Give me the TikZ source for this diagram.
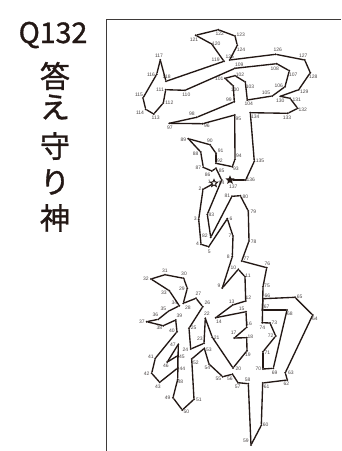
\documentclass[tikz,border=0pt]{standalone}
\usepackage{fontspec}
\setmainfont{Liberation Sans}
\newfontfamily\jpfont[FakeBold=1.2]{Noto Sans CJK JP}
\usetikzlibrary{shapes.geometric}

\definecolor{inkdark}{HTML}{231815}
\definecolor{framegray}{HTML}{3E3A39}
\definecolor{numgray}{HTML}{4A4545}

\tikzset{
  dotpt/.style={circle,fill=inkdark,inner sep=0pt,minimum size=2.2pt},
  numlabel/.style={inner sep=0pt,text=numgray,font=\fontsize{5}{5}\selectfont},
  titletext/.style={inner sep=0pt,text=inkdark,font=\jpfont\fontsize{30}{30}\selectfont},
  stroke/.style={draw=inkdark,line width=1.35pt,line cap=round,line join=round}
}

\begin{document}
\begin{tikzpicture}[x=1pt,y=-1pt]
  \useasboundingbox (0,0) rectangle (341,451);

  % frame
  \coordinate (framea) at (106.5,451);
  \coordinate (frameb) at (106.5,19.5);
  \coordinate (framec) at (341,19.5);
  \draw[framegray,line width=1.1pt] (framea) -- (frameb) -- (framec);

  % heading
  \node[titletext,font=\jpfont\fontsize{28.5}{28.5}\selectfont] (qno) at (53,35) {Q132};
  \node[titletext] (ansa) at (55,76) {答};
  \node[titletext] (ansb) at (55,107) {え};
  \node[titletext] (nama) at (55,146) {守};
  \node[titletext] (namb) at (55,182) {り};
  \node[titletext] (namc) at (55,218) {神};

  % dots and their numbers: n / x / y / label x / label y
  \foreach \n/\x/\y/\lx/\ly in {
    2/203/189.3/200/189, 3/198.7/219.3/195.3/219, 4/201/244.3/197.5/243.7,
    5/208.7/246.7/209.3/252, 6/227.3/218.7/231/219, 7/233/236/230/236,
    8/232.3/256.7/228.3/256.7, 9/222.3/288/219/286, 10/238.3/269.3/233.3/268,
    11/245/276.7/248/276, 12/245.7/301/248.3/297.3, 13/232.7/305/231.7/301.3,
    14/215.7/317.7/219/321.3, 15/246/311.7/241.7/309, 16/246.7/327.3/249/324,
    17/234.3/338/233.7/333, 18/246.7/337.7/250.3/337, 19/247/350.7/248/355,
    20/233/368/238.3/368.3, 21/212.3/337.3/216.7/337.7, 22/205.3/318.3/207/314,
    23/204/343.3/200/339, 24/190.7/349/185.3/349.3, 25/189/328.3/193.7/328,
    26/202.7/306.7/207.3/303, 27/196/298.3/198.3/294, 28/183.3/303.3/188/307.3,
    29/187.3/288.3/182/289, 30/183.7/278.3/184/274, 31/165/274.7/165/271,
    32/151/279/146/279, 33/169.3/290.7/164/292.3, 34/179.3/305.7/174.3/303,
    35/168.3/311.3/163.3/309, 36/158.3/319.3/155.3/315, 37/146.7/321.7/142/321.7,
    38/163.3/325.7/159.3/328, 39/175.7/320/179.3/316, 40/177/331.7/172/331,
    41/155.3/358.3/151/357, 42/151.7/373.3/146.7/373.3, 43/159.7/382.3/158/387,
    44/177.7/368/182.3/369, 45/177.7/355.7/182/357, 46/167.3/362/166/366,
    47/178.3/344.3/173/345, 48/177.7/379.3/180.3/382, 49/173/397.7/167.7/398,
    50/182.3/410/186.3/412, 51/194/399.3/199/400, 52/191.7/359/196/363,
    53/204.3/348.3/209/350, 54/209/364/207.3/368, 55/222.7/376.7/218.3/379,
    56/232.5/374.2/230/379, 57/238/382.7/237.7/387, 58/248.3/383.7/247.7/380,
    59/251/445/246/441, 60/261.3/425.3/265.7/425, 61/262.7/383/266.7/387,
    62/287.3/380/286.3/384, 63/285.3/372.7/291/373, 64/312.7/315/315/319,
    65/295/297.3/299.7/297, 66/263/298.7/267.3/296, 67/262.3/310/266.7/307,
    68/287/310/290/314, 69/273.3/368.3/274.7/373, 70/263/369/258.3/369,
    71/263/351.7/267.3/353, 72/275.7/336/270.7/336, 73/270/323/274.3/323,
    74/262.3/322.7/262.3/328, 75/263/286.7/267/286, 76/266.7/267.7/267.3/264,
    77/241.7/261/246.3/259, 78/249/241/253.7/241.3, 79/248.3/211/253.3/212,
    80/240.3/195.7/245.3/197, 81/232/196.3/227.3/196, 82/210.7/237.3/205/236,
    83/207.3/214.3/211.3/215, 84/221.7/180/221.7/182.7, 85/216/168.3/221.7/171,
    86/211.7/171/207.7/175, 87/203.3/167.3/198.3/168, 88/200.7/152/195.7/154,
    89/188.3/138.7/183.3/140, 90/210/144.7/210/141, 91/216/153.3/220.7/150.7,
    92/216/163.3/220/161, 93/232.3/166.7/236/169, 94/235/159.3/239/156,
    95/234.7/115/238.3/118.7, 96/202.7/123.7/207/125.7, 97/169.3/123.3/170/127.7,
    98/196.7/117.3/192/114, 99/234.3/101.7/229/100, 100/233.3/86/235/90,
    101/225/78.3/219.3/79, 102/235/75.7/240/75, 103/245.3/82/250/87,
    104/247.3/100/248.7/104, 105/272.3/96/266/92.7, 106/285/86.7/278.7/86,
    107/289.3/70.7/293.3/75, 108/276.7/63.7/274.7/69, 109/235/68.3/239.3/65,
    110/185/90.3/186.3/94.7, 111/165.7/89.7/160/89.7, 112/163.3/103/169.3/103,
    113/153.7/114/155.7/117.7, 114/145.7/109.3/140/113, 115/143/98/139/94.7,
    116/156.7/74.3/151/75, 117/160.3/60/159/55.7, 118/166/81.3/166.7/76.7,
    119/224/61.3/215.7/60, 120/211.7/44/216.3/44, 121/195.7/35.3/194/40,
    122/218.3/29.7/219.7/34, 123/235/36/240.7/35, 124/237.3/45.3/241/49.7,
    125/229.7/60/229.7/56.7, 126/275.7/54.3/277.7/49.7, 127/304.7/60/303.3/55.7,
    128/310.3/72.7/313.3/76.7, 129/298.7/89.7/304.3/91.7, 130/280.3/96.3/280.3/100.7,
    131/290/98.3/296.7/100, 132/297.7/108.3/302.7/110, 133/287.7/113.3/287/117.7,
    134/250.3/112.7/255.3/116.7, 135/254.3/161.3/260/161, 136/245.7/180/250.7/180}{
    \node[dotpt] (p\n) at (\x,\y) {};
    \node[numlabel] (t\n) at (\lx,\ly) {\n};
  }

  % the two stars
  \node[star,star points=5,star point ratio=2.2,draw=inkdark,fill=white,line width=1pt,inner sep=0pt,minimum size=7.5pt] (p1) at (214,183.3) {};
  \node[numlabel] (t1) at (209.3,182) {1};
  \node[star,star points=5,star point ratio=2.2,fill=inkdark,inner sep=0pt,minimum size=9.5pt] (p137) at (230,180) {};
  \node[numlabel] (t137) at (233.3,186.3) {137};

  % the line through all dots
  \foreach \n [remember=\n as \last (initially 1)] in {2,...,137}{
    \draw[stroke] (p\last) -- (p\n);
  }
\end{tikzpicture}
\end{document}
